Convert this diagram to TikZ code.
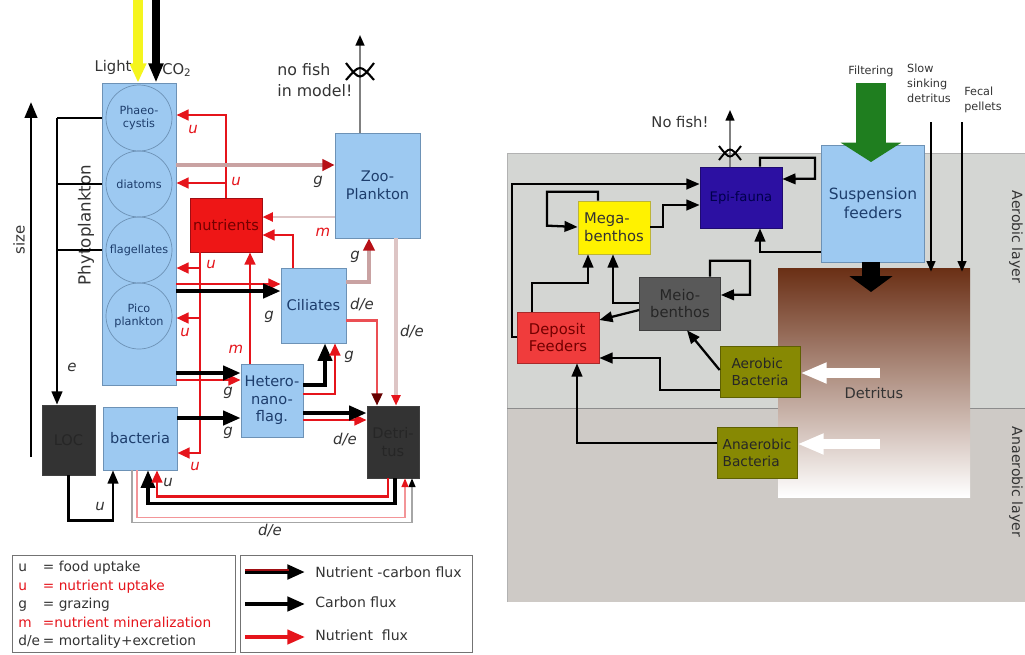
\documentclass[tikz,border=0pt]{standalone}
\usepackage{fontspec}
\setmainfont{DejaVu Sans}
\usetikzlibrary{arrows.meta}

\definecolor{boxblue}{HTML}{9DC9F1}
\definecolor{boxline}{HTML}{6D92B6}
\definecolor{boxtext}{HTML}{1D3D6C}
\definecolor{nutred}{HTML}{E5141B}
\definecolor{nutbox}{HTML}{EE1616}
\definecolor{rosy}{HTML}{C9A2A2}
\definecolor{palerosy}{HTML}{DDC5C5}
\definecolor{darkcell}{HTML}{333333}
\definecolor{epiblue}{HTML}{2C10A2}
\definecolor{depred}{HTML}{F03C3C}
\definecolor{bactolive}{HTML}{878903}
\definecolor{meiogray}{HTML}{595959}
\definecolor{aerogray}{HTML}{D4D6D3}
\definecolor{anaerogray}{HTML}{CECAC6}
\definecolor{detbrown}{HTML}{6A2F15}
\definecolor{filtgreen}{HTML}{1F7E1F}
\definecolor{lightyellow}{HTML}{F5F51E}

\tikzset{
  box/.style={draw=boxline, fill=boxblue, text=boxtext, inner sep=0pt, align=center,
    font=\fontsize{8.3}{10}\selectfont},
  cell/.style={circle, draw=boxline, inner sep=0pt, minimum size=66*\px, align=center,
    text=boxtext, font=\fontsize{6.4}{7.8}\selectfont},
  darkbox/.style={draw=black!75, fill=darkcell, text=black!85, inner sep=0pt, align=center,
    font=\fontsize{8.3}{10}\selectfont},
  benth/.style={draw=#1!70!black, fill=#1, inner sep=0pt, align=left, text=black!80,
    font=\fontsize{8.4}{10.2}\selectfont},
  lbl/.style={inner sep=0pt, font=\fontsize{8.5}{10}\selectfont\itshape, text=black!80},
  rlbl/.style={lbl, text=nutred},
  txt/.style={inner sep=0pt, align=left, text=black!80},
  cflux/.style={draw=black, line width=2.3pt, -{Triangle[length=10pt,width=8pt]}},
  nflux/.style={draw=nutred, line width=1.6pt, -{Triangle[length=7pt,width=6pt]}},
  gflux/.style={draw=rosy, line width=2.2pt, -{Triangle[length=7pt,width=6.5pt,color=nutred!80!black]}},
  mflux/.style={draw=palerosy, line width=1.5pt, -{Triangle[length=6pt,width=5pt,color=nutred]}},
  bflux/.style={draw=black, line width=1.3pt, -{Triangle[length=7.5pt,width=6pt]}},
}

\begin{document}
\begin{tikzpicture}[x=0.02cm, y=-0.02cm]
\def\px{0.02cm}
\useasboundingbox (0,0) rectangle (1025,654);

% ---------- pelagic model (left) ----------
\node[box, minimum width=74*\px, minimum height=302*\px] (phyto) at (139,234) {};
\node[cell] (phaeo) at (139,118) {Phaeo-\\cystis};
\node[cell] (diat)  at (139,184) {diatoms};
\node[cell] (flag)  at (139,250) {flagellates};
\node[cell] (pico)  at (139,316) {Pico\\plankton};
\node[box, fill=nutbox, draw=nutred!70!black, text=red!45!black,
      minimum width=72*\px, minimum height=54*\px] (nutr) at (226,225) {nutrients};
\node[box, minimum width=85*\px, minimum height=105*\px] (zoo)  at (377.5,185.5) {Zoo-\\Plankton};
\node[box, minimum width=65*\px, minimum height=75*\px]  (cil)  at (313.5,305.5) {Ciliates};
\node[box, minimum width=62*\px, minimum height=73*\px]  (hnf)  at (272,400.5) {Hetero-\\nano-\\flag.};
\node[box, minimum width=74*\px, minimum height=63*\px]  (bact) at (140,438.5) {bacteria};
\node[darkbox, minimum width=52*\px, minimum height=72*\px] (det) at (393,442) {Detri-\\tus};
\node[darkbox, minimum width=53*\px, minimum height=70*\px] (loc) at (68.5,440) {LOC};

% light, CO2 and size
\coordinate (sun) at (138,0);
\coordinate (air) at (156,0);
\draw[lightyellow, line width=5.5pt, -{Triangle[length=11pt,width=9pt]}] (sun) -- (sun |- phyto.north);
\draw[black, line width=4pt, -{Triangle[length=11pt,width=8pt]}] (air) -- (air |- phyto.north);
\node[txt, font=\fontsize{8.4}{10}\selectfont] (light) at (113,67) {Light};
\node[txt, font=\fontsize{8.4}{10}\selectfont] (co2) at (177,70) {CO\textsubscript{2}};
\coordinate (small) at (31,457);
\coordinate (large) at (31,102);
\draw[line width=1.6pt, -{Triangle[length=9pt,width=7pt]}] (small) -- (large);
\node[txt, rotate=90, font=\fontsize{8.5}{10}\selectfont] (sizelbl) at (19,240) {size};
\node[txt, rotate=90, font=\fontsize{9.5}{11}\selectfont] (phylbl) at (86,225) {Phytoplankton};

% excretion to LOC
\coordinate (ecol) at (57,0);
\draw[line width=1.4pt] (phyto.west |- phaeo) -- (ecol |- phaeo);
\draw[line width=1.4pt] (phyto.west |- diat) -- (ecol |- diat);
\draw[line width=1.4pt] (phyto.west |- flag) -- (ecol |- flag);
\draw[bflux] (ecol |- phaeo) -- (ecol |- loc.north);
\node[lbl] (le) at (72,367) {e};
\draw[bflux] (loc.south) -- ++(0,45) -| (bact.south -| 113,0);
\node[lbl] (lu1) at (100,507) {u};

% nutrient uptake
\draw[nflux] (nutr.north) |- (phyto.east |- 0,115);
\draw[nflux] (nutr.north |- 0,183) -- (phyto.east |- 0,183);
\draw[nflux] (nutr.south -| 200,0) |- (bact.east |- 0,453);
\draw[nflux] (200,268) -- (phyto.east |- 0,268);
\draw[nflux] (200,318) -- (phyto.east |- 0,318);
\node[rlbl] (ru1) at (193,130) {u};
\node[rlbl] (ru2) at (236,182) {u};
\node[rlbl] (ru3) at (211,265) {u};
\node[rlbl] (ru4) at (185,333) {u};
\node[rlbl] (ru5) at (195,467) {u};

% mineralization
\draw[nflux] (hnf.north -| 250,0) -- (nutr.south -| 250,0);
\draw[nflux] (cil.north -| 293,0) |- (nutr.east |- 0,235);
\draw[mflux] (zoo.west |- 0,217) -- (nutr.east |- 0,217);
\node[rlbl] (rm1) at (236,349) {m};
\node[rlbl] (rm2) at (323,232) {m};

% grazing
\draw[gflux] (phyto.east |- 0,165) -- (zoo.west |- 0,165);
\node[lbl] (lg1) at (318,182) {g};
\draw[nflux] (phyto.east |- 0,284) -- (cil.west |- 0,284);
\draw[cflux] (phyto.east |- 0,291) -- (cil.west |- 0,291);
\node[lbl] (lg2) at (269,317) {g};
\draw[gflux] (cil.east |- 0,282) -| (zoo.south -| 369,0);
\node[lbl] (lg3) at (355,257) {g};
\draw[cflux] (hnf.east |- 0,385) -| (cil.south -| 325,0);
\draw[nflux] (hnf.east |- 0,394) -| (cil.south -| 335,0);
\node[lbl] (lg4) at (349,357) {g};
\draw[nflux] (phyto.east |- 0,380) -- (hnf.west |- 0,380);
\draw[cflux] (phyto.east |- 0,373) -- (hnf.west |- 0,373);
\node[lbl] (lg5) at (228,393) {g};
\draw[cflux] (bact.east |- 0,418) -- (hnf.west |- 0,418);
\node[lbl] (lg6) at (228,433) {g};

% mortality and excretion
\draw[draw=nutred!75, line width=1.7pt, -{Triangle[length=7pt,width=6pt,color=red!40!black]}]
  (cil.east |- 0,320) -| (det.north -| 377,0);
\node[lbl] (lde1) at (362,305) {d/e};
\draw[mflux, line width=1.8pt] (zoo.south -| 396,0) -- (det.north -| 396,0);
\node[lbl] (lde2) at (412,332) {d/e};
\draw[nflux] (hnf.east |- 0,420) -- (det.west |- 0,420);
\draw[cflux] (hnf.east |- 0,413) -- (det.west |- 0,413);
\node[lbl] (lde3) at (345,440) {d/e};
\draw[black!35, line width=0.8pt, -{Triangle[length=5pt,width=4pt,color=black]}]
  (bact.south -| 132,0) -- ++(0,52) -| (det.south -| 412,0);
\draw[nutred!45, line width=0.8pt, -{Triangle[length=5pt,width=4pt,color=nutred]}]
  (bact.south -| 137,0) -- ++(0,47) -| (det.south -| 405,0);
\node[lbl] (lde4) at (270,531) {d/e};

% detritus to bacteria
\draw[cflux, line width=1.8pt] (det.south -| 395,0) -- ++(0,25) -| (bact.south -| 148,0);
\draw[nflux] (det.south -| 388,0) -- ++(0,18) -| (bact.south -| 157,0);
\node[lbl] (lu2) at (168,483) {u};

% no fish
\coordinate (fish) at (360,35);
\draw[black!50, line width=1pt, -{Triangle[length=6pt,width=5pt,color=black]}] (zoo.north -| fish) -- (fish);
\draw[line width=1.2pt] (346,63) .. controls (360,81) .. (374,63);
\draw[line width=1.2pt] (346,80) .. controls (360,64) .. (374,80);
\node[txt, anchor=west, font=\fontsize{9}{11.5}\selectfont] (fishtxt) at (277,80) {no fish\\in model!};

% key
\node[draw=black!55, minimum width=223*\px, minimum height=97*\px, inner sep=0pt] (keyl) at (123.5,603.5) {};
\node[draw=black!55, minimum width=232*\px, minimum height=97*\px, inner sep=0pt] (keyr) at (356,603.5) {};
\node[txt, anchor=west, font=\fontsize{7.8}{10.5}\selectfont] (keytxt) at (18,605) {%
  \makebox[14pt][l]{u}= food uptake\\
  \color{nutred}\makebox[14pt][l]{u}= nutrient uptake\\
  \makebox[14pt][l]{g}= grazing\\
  \color{nutred}\makebox[14pt][l]{m}=nutrient mineralization\\
  \makebox[14pt][l]{d/e}= mortality+excretion};
\coordinate (k1) at (245,572);
\coordinate (k2) at (305,572);
\coordinate (k3) at (245,604);
\coordinate (k4) at (305,604);
\coordinate (k5) at (245,637);
\coordinate (k6) at (305,637);
\draw[cflux, line width=2.8pt] (k1) -- (k2);
\draw[nutred!70!black, line width=1pt] ([yshift=1.2pt]k1) -- ([yshift=1.2pt,xshift=-9pt]k2);
\draw[cflux] (k3) -- (k4);
\draw[nflux, line width=2.2pt, -{Triangle[length=10pt,width=8pt]}] (k5) -- (k6);
\node[txt, anchor=west, font=\fontsize{8}{10}\selectfont] (kt1) at (315,572) {Nutrient -carbon flux};
\node[txt, anchor=west, font=\fontsize{8}{10}\selectfont] (kt2) at (315,602) {Carbon flux};
\node[txt, anchor=west, font=\fontsize{8}{10}\selectfont] (kt3) at (315,635) {Nutrient\ \ flux};

% ---------- benthic model (right) ----------
\fill[aerogray] (507,153) rectangle (1025,408);
\fill[anaerogray] (507,408) rectangle (1025,602);
\draw[black!30] (507,602) |- (1025,153);
\draw[black!45] (507,408) -- (1025,408);
\node[rotate=-90, txt, font=\fontsize{8}{10}\selectfont] (aerolbl) at (1016,237) {Aerobic layer};
\node[rotate=-90, txt, font=\fontsize{8}{10}\selectfont] (anaerolbl) at (1016,482) {Anaerobic layer};

\node[minimum width=192*\px, minimum height=229*\px, inner sep=0pt,
      top color=detbrown, bottom color=white] (detr) at (874,382.5) {};
\node[txt, font=\fontsize{8.3}{10}\selectfont] (detrlbl) at (874,393) {Detritus};

\node[box, font=\fontsize{8.8}{10.8}\selectfont, minimum width=103*\px, minimum height=117*\px] (susp) at (873,203.5) {Suspension\\feeders};
\node[benth=epiblue, text=blue!30!black, align=center, font=\fontsize{7.5}{9}\selectfont,
      minimum width=82*\px, minimum height=61*\px] (epi) at (741,197.5) {Epi-fauna};
\node[benth=yellow, minimum width=72*\px, minimum height=53*\px] (mega) at (614,227.5) {Mega-\\benthos};
\node[benth=depred, text=red!45!black, minimum width=82*\px, minimum height=51*\px] (dep) at (558,337.5) {Deposit\\Feeders};
\node[benth=meiogray, text=black!85, align=center, minimum width=81*\px, minimum height=53*\px] (meio) at (680,303.5) {Meio-\\benthos};
\node[benth=bactolive, text=black!85, font=\fontsize{7.8}{9.6}\selectfont, minimum width=80*\px, minimum height=51*\px] (aer) at (760,371.5) {Aerobic\\Bacteria};
\node[benth=bactolive, text=black!85, font=\fontsize{7.8}{9.6}\selectfont, minimum width=80*\px, minimum height=51*\px] (ana) at (757,452.5) {Anaerobic\\Bacteria};

% inputs from the water column
\coordinate (filt) at (871,83);
\coordinate (filtend) at (871,162);
\draw[filtgreen, line width=17.5pt, -{Triangle[length=11pt,width=34pt]}] (filt) -- (filtend);
\node[txt, font=\fontsize{6.4}{8}\selectfont] (filtlbl) at (871,71) {Filtering};
\node[txt, font=\fontsize{6.4}{8.6}\selectfont] (slowlbl) at (929,83) {Slow\\sinking\\detritus};
\node[txt, font=\fontsize{6.4}{8.6}\selectfont] (fecallbl) at (983,100) {Fecal\\pellets};
\coordinate (slow) at (931,122);
\coordinate (fecal) at (962,122);
\draw[line width=1pt, -{Triangle[length=6pt,width=5pt]}] (slow) -- ([yshift=-4*\px]slow |- detr.north);
\draw[line width=1pt, -{Triangle[length=6pt,width=5pt]}] (fecal) -- ([yshift=-4*\px]fecal |- detr.north);
\coordinate (sink) at (871,292);
\draw[line width=10pt, -{Triangle[length=9pt,width=24pt]}] (susp.south -| sink) -- (sink);

% bacteria fed by detritus
\coordinate (aerin) at (880,373);
\coordinate (anain) at (880,444);
\draw[white, line width=5.7pt, -{Triangle[length=15pt,width=11pt]}] (aerin) -- (aer.east |- aerin);
\draw[white, line width=5.7pt, -{Triangle[length=15pt,width=11pt]}] (anain) -- (ana.east |- anain);

% benthic food web
\draw[bflux] (epi.north -| 760,0) -- ++(0,-9) -| ++(55,21) -- (epi.east |- 0,179);
\draw[bflux] (susp.west |- 0,252) -| (epi.south -| 760,0);
\draw[bflux] (mega.north -| 598,0) -- ++(0,-9) -| ++(-51,34) -- (mega.west |- 0,227);
\draw[bflux] (mega.east |- 0,227) -- ++(13,0) |- (epi.west |- 0,205);
\draw[bflux] (dep.west |- 0,337) -- ++(-5,0) |- (epi.west |- 0,184);
\draw[bflux] (dep.north -| 532,0) -- ++(0,-29) -| (mega.south -| 588,0);
\draw[bflux] (meio.west |- 0,303) -| (mega.south -| 613,0);
\draw[bflux] (meio.north -| 710,0) -- ++(0,-16) -| ++(40,34) -- (meio.east |- 0,295);
\draw[bflux] (meio.west |- 0,310) -- (dep.east |- 0,320);
\draw[bflux] (aer.west |- 0,370) -- (meio.south -| 687,0);
\draw[bflux] (aer.west |- 0,390) -- ++(-60,0) |- (dep.east |- 0,358);
\draw[bflux] (ana.west |- 0,443) -| (dep.south -| 577,0);

% no fish
\coordinate (nofish) at (730,110);
\draw[black!50, line width=0.9pt, -{Triangle[length=6pt,width=5pt,color=black]}] (epi.north -| nofish) -- (nofish);
\draw[line width=1.1pt] (719,146) .. controls (730,160) .. (741,146);
\draw[line width=1.1pt] (719,160) .. controls (730,146) .. (741,160);
\node[txt, font=\fontsize{8.4}{10}\selectfont] (nofishlbl) at (680,122) {No fish!};
\end{tikzpicture}
\end{document}
